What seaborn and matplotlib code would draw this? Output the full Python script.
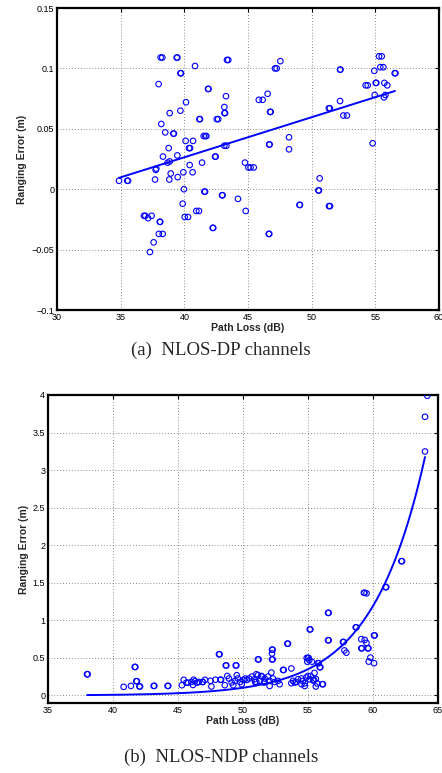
import numpy as np
import pandas as pd
import matplotlib
matplotlib.use("Agg")
import matplotlib.pyplot as plt
import seaborn as sns

# --- (a) NLOS-DP channels: path loss (dB) vs ranging error (m) ---
dp_loss = [
    38.14, 38.27, 39.40, 39.45, 39.69, 39.74, 40.84, 37.98, 43.35, 43.45,
    47.54, 47.12, 47.25, 52.23, 52.26, 54.92, 55.29, 55.50, 55.39, 55.63,
    56.52, 56.58, 54.24, 54.40, 55.03, 55.08, 55.71, 55.94, 54.95, 55.68,
    55.79, 41.86, 41.90, 43.27, 45.85, 46.15, 46.54, 52.23, 51.35, 51.43,
    43.14, 43.15, 43.20, 46.73, 46.78, 39.69, 38.85, 40.13, 52.49, 52.77,
    41.18, 41.23, 42.55, 42.66, 38.19, 41.52, 41.65, 41.73, 38.50, 39.14,
    39.18, 54.79, 48.22, 48.22, 46.66, 46.70, 43.14, 43.30, 40.10, 40.37,
    40.45, 40.68, 38.77, 38.32, 39.45, 42.41, 42.46, 38.69, 38.85, 40.42,
    41.39, 44.76, 37.75, 37.80, 34.87, 35.52, 35.58, 37.70, 38.93, 38.82,
    39.48, 39.92, 40.65, 45.03, 45.20, 45.45, 50.63, 39.97, 41.57, 41.63,
    42.96, 43.00, 44.21, 44.82, 50.53, 50.57, 49.04, 49.08, 51.36, 51.44,
    39.87, 40.94, 41.15, 40.03, 40.29, 36.83, 36.94, 37.43, 37.15, 38.07,
    38.11, 38.00, 38.30, 37.59, 37.30, 42.23, 42.27, 46.63, 46.67,
]
dp_err = [
    0.109, 0.109, 0.109, 0.109, 0.096, 0.096, 0.102, 0.087, 0.107, 0.107,
    0.106, 0.100, 0.100, 0.099, 0.099, 0.098, 0.110, 0.110, 0.101, 0.101,
    0.096, 0.096, 0.086, 0.086, 0.088, 0.088, 0.088, 0.086, 0.078, 0.076,
    0.078, 0.083, 0.083, 0.077, 0.074, 0.074, 0.079, 0.073, 0.067, 0.067,
    0.068, 0.063, 0.063, 0.064, 0.064, 0.065, 0.063, 0.072, 0.061, 0.061,
    0.058, 0.058, 0.058, 0.058, 0.054, 0.044, 0.044, 0.044, 0.047, 0.046,
    0.046, 0.038, 0.043, 0.033, 0.037, 0.037, 0.036, 0.036, 0.040, 0.034,
    0.034, 0.040, 0.034, 0.027, 0.028, 0.027, 0.027, 0.022, 0.023, 0.020,
    0.022, 0.022, 0.016, 0.017, 0.007, 0.007, 0.007, 0.008, 0.013, 0.008,
    0.010, 0.014, 0.014, 0.018, 0.018, 0.018, 0.009, 0.000, -0.002, -0.002,
    -0.005, -0.005, -0.008, -0.018, -0.001, -0.001, -0.013, -0.013, -0.014, -0.014,
    -0.012, -0.018, -0.018, -0.023, -0.023, -0.022, -0.022, -0.022, -0.024, -0.027,
    -0.027, -0.037, -0.037, -0.044, -0.052, -0.032, -0.032, -0.037, -0.037,
]
# linear fit
dp_fit_x = [34.87, 56.54]
dp_fit_y = [0.0094, 0.0813]

# --- (b) NLOS-NDP channels ---
ndp_loss = [
    38.00, 38.05, 40.82, 41.38, 41.67, 41.72, 41.79, 41.84, 42.03, 42.08,
    43.13, 43.18, 44.20, 44.25, 45.30, 45.44, 45.64, 45.77, 46.03, 46.15,
    46.30, 46.45, 46.60, 46.87, 46.92, 46.20, 47.08, 47.50, 47.57, 47.88,
    48.26, 48.31, 48.60, 48.15, 48.20, 48.67, 48.72, 49.44, 49.49,
    48.79, 48.92, 49.13, 49.25, 49.38, 49.52, 49.60, 49.78, 49.90, 50.03,
    50.17, 50.29, 50.47, 50.68, 50.88, 50.93, 51.15, 51.29, 51.46, 51.62,
    51.15, 51.20, 52.23, 52.28, 52.23, 52.23, 52.28, 53.41, 53.46, 53.08,
    53.13, 53.72,
    51.03, 51.41, 51.67, 51.92, 52.05, 52.18, 52.30, 52.44, 52.69, 52.82,
    52.05, 51.67, 51.03,
    53.85, 53.98, 54.10, 54.23, 54.50, 54.60, 54.75, 54.87, 55.00, 55.13,
    54.50, 54.75, 55.46, 53.72,
    54.90, 55.00, 55.05, 55.10, 55.30, 54.95, 55.13, 55.18, 55.77, 55.82,
    55.90, 55.95, 55.50, 55.20, 55.40, 55.60, 55.70, 56.10, 56.15, 55.60,
    56.54, 56.59, 56.54, 56.59, 57.69, 57.74, 57.80, 57.95, 58.67, 58.72,
    59.10, 59.15, 59.10, 59.36, 59.50, 59.60, 59.65, 59.30, 59.35, 59.50,
    59.80, 59.67, 60.08, 60.08, 60.13, 60.97, 61.02, 62.18, 62.23,
    64.00, 64.00, 64.18,
]
ndp_err = [
    0.283, 0.283, 0.115, 0.128, 0.380, 0.380, 0.190, 0.190, 0.120, 0.120,
    0.128, 0.128, 0.128, 0.128, 0.137, 0.208, 0.170, 0.170, 0.180, 0.140,
    0.190, 0.170, 0.180, 0.180, 0.180, 0.210, 0.208, 0.195, 0.120, 0.210,
    0.210, 0.210, 0.137, 0.549, 0.549, 0.400, 0.400, 0.400, 0.400,
    0.260, 0.226, 0.173, 0.137, 0.194, 0.270, 0.226, 0.180, 0.150, 0.207,
    0.226, 0.207, 0.226, 0.252, 0.216, 0.180, 0.270, 0.194, 0.252, 0.173,
    0.480, 0.480, 0.610, 0.610, 0.560, 0.480, 0.480, 0.690, 0.690, 0.340,
    0.340, 0.360,
    0.283, 0.260, 0.226, 0.252, 0.194, 0.305, 0.226, 0.180, 0.194, 0.150,
    0.127, 0.180, 0.180,
    0.194, 0.173, 0.180, 0.216, 0.226, 0.194, 0.163, 0.239, 0.260, 0.216,
    0.150, 0.127, 0.207, 0.163,
    0.500, 0.500, 0.500, 0.470, 0.450, 0.450, 0.880, 0.880, 0.430, 0.430,
    0.376, 0.376, 0.300, 0.260, 0.200, 0.220, 0.160, 0.150, 0.150, 0.120,
    1.100, 1.100, 0.735, 0.735, 0.712, 0.712, 0.600, 0.570, 0.907, 0.907,
    0.628, 0.628, 0.750, 0.740, 0.700, 0.628, 0.628, 1.367, 1.367, 1.360,
    0.505, 0.451, 0.430, 0.800, 0.800, 1.442, 1.442, 1.788, 1.788,
    3.248, 3.710, 3.990,
]
# exponential fit y = a * exp(b * (x - x0))
ndp_fit_a = 0.35
ndp_fit_b = 0.245
ndp_fit_x0 = 55.0
ndp_fit_range = [38.0, 64.0]

dp_xticks = [30, 35, 40, 45, 50, 55, 60]
dp_yticks = [-0.1, -0.05, 0, 0.05, 0.1, 0.15]
dp_ylabels = ["\u22120.1", "\u22120.05", "0", "0.05", "0.1", "0.15"]
ndp_xticks = [35, 40, 45, 50, 55, 60, 65]
ndp_yticks = [0, 0.5, 1, 1.5, 2, 2.5, 3, 3.5, 4]
ndp_ylabels = ["0", "0.5", "1", "1.5", "2", "2.5", "3", "3.5", "4"]

BLUE = "#0000ff"

sns.set_style("white")
plt.rcParams["font.family"] = ["Liberation Sans", "DejaVu Sans"]


def style_axes(ax, xticks, yticks, ylabels, xlim, ylim):
    ax.set_xlim(*xlim)
    ax.set_ylim(*ylim)
    ax.set_xticks(xticks)
    ax.set_xticklabels([str(t) for t in xticks])
    ax.set_yticks(yticks)
    ax.set_yticklabels(ylabels)
    ax.grid(True, color="#666666", linestyle=(0, (1, 2.5)), linewidth=0.6)
    ax.tick_params(direction="in", top=True, right=True, length=3, width=0.8,
                   labelsize=6.5, colors="k", pad=2)
    for s in ax.spines.values():
        s.set_color("k")
        s.set_linewidth(1.6)
    ax.set_xlabel("Path Loss (dB)", fontsize=7.5, fontweight="bold", labelpad=1)
    ax.set_ylabel("Ranging Error (m)", fontsize=7.5, fontweight="bold", labelpad=3)


fig = plt.figure(figsize=(4.42, 7.73), dpi=100)

# (a)
ax1 = fig.add_axes([57 / 442, 1 - 310 / 773, 382 / 442, 302 / 773])
df_dp = pd.DataFrame({"loss": dp_loss, "err": dp_err})
sns.scatterplot(data=df_dp, x="loss", y="err", ax=ax1, marker="o", s=16,
                facecolors="none", edgecolor=BLUE, linewidth=0.8, zorder=3)
sns.lineplot(x=dp_fit_x, y=dp_fit_y, ax=ax1, color=BLUE, linewidth=1.4, zorder=4)
style_axes(ax1, dp_xticks, dp_yticks, dp_ylabels, (30, 60), (-0.1, 0.15))
fig.text(0.5, 1 - 350 / 773, "(a)  NLOS-DP channels", ha="center", va="center",
         fontsize=13.5, family=["Liberation Serif", "DejaVu Serif"])

# (b)
ax2 = fig.add_axes([48 / 442, 1 - 703 / 773, 390 / 442, 308 / 773])
df_ndp = pd.DataFrame({"loss": ndp_loss, "err": ndp_err})
sns.scatterplot(data=df_ndp, x="loss", y="err", ax=ax2, marker="o", s=16,
                facecolors="none", edgecolor=BLUE, linewidth=0.8, zorder=3)
fit_x = np.linspace(ndp_fit_range[0], ndp_fit_range[1], 200)
fit_y = ndp_fit_a * np.exp(ndp_fit_b * (fit_x - ndp_fit_x0))
sns.lineplot(x=fit_x, y=fit_y, ax=ax2, color=BLUE, linewidth=1.4, zorder=4)
style_axes(ax2, ndp_xticks, ndp_yticks, ndp_ylabels, (35, 65), (-0.1, 4))
fig.text(0.5, 1 - 757 / 773, "(b)  NLOS-NDP channels", ha="center", va="center",
         fontsize=13.5, family=["Liberation Serif", "DejaVu Serif"])

fig.savefig("out.png", dpi=100)
